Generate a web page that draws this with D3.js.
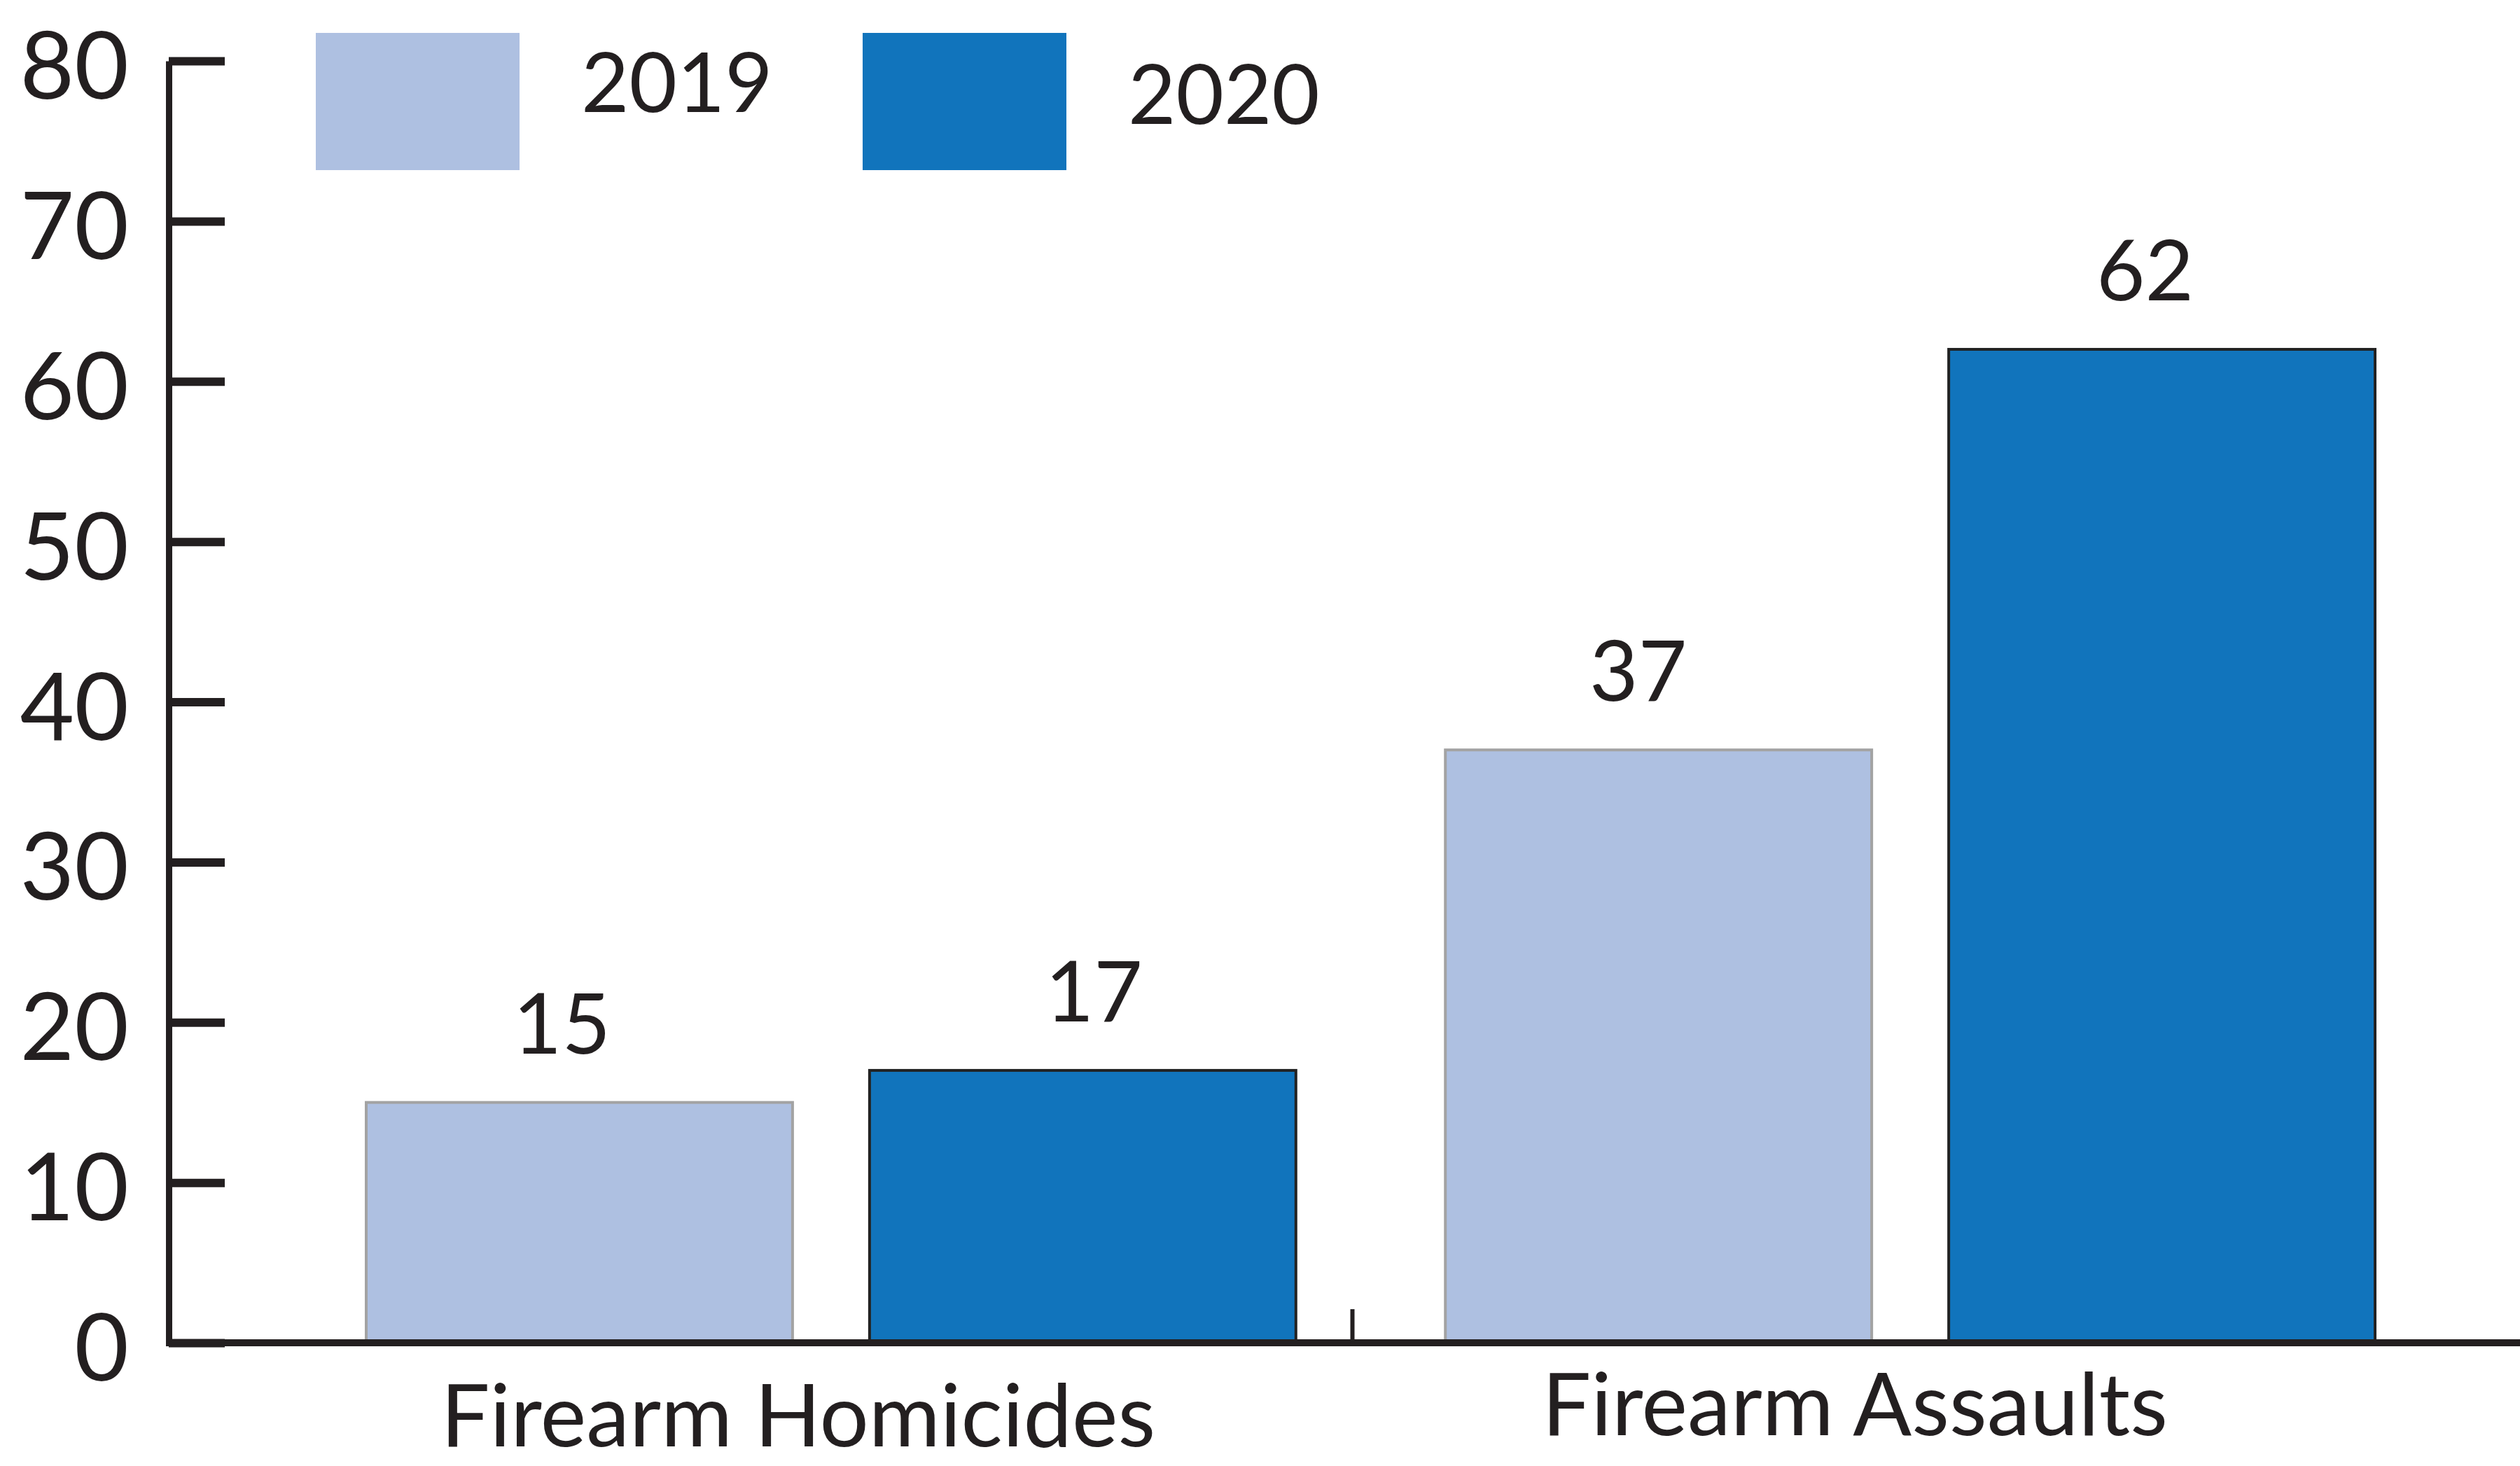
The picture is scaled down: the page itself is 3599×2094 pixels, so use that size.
<!DOCTYPE html>
<html>
<head lang="en">
    <meta charset="UTF-8">
    <title>Firearm Homicides and Assaults, 2019 vs 2020</title>
    <script src="https://d3js.org/d3.v7.min.js"></script>
    <style>
        body { margin: 0; background: #fff; }
        text { font-family: Lato, "Noto Sans", sans-serif; fill: #231f20; }
    </style>
</head>
<body>
<div id="chartContainer"></div>
<script type="text/javascript">
    // data
    var categories = ["Firearm Homicides", "Firearm Assaults"];
    var years = ["2019", "2020"];
    var values2019 = [15, 37];
    var values2020 = [17, 62];
    var yTicks = [0, 10, 20, 30, 40, 50, 60, 70, 80];

    var W = 3599, H = 2094;
    var svg = d3.select("#chartContainer").append("svg")
        .attr("width", W).attr("height", H);

    var colors = { "2019": "#aec0e1", "2020": "#1174bc" };
    var strokes = { "2019": "#a3a3a3", "2020": "#222" };

    var rows = categories.map(function (c, i) {
        return { cat: c, idx: i, "2019": values2019[i], "2020": values2020[i] };
    });

    var y = d3.scaleLinear().domain([0, 80]).range([1918, 87]);
    var x0 = d3.scaleBand().domain(categories).range([523, 3392]).paddingInner(0.1385);
    var x1 = d3.scaleBand().domain(years).range([0, x0.bandwidth()]).paddingInner(0.153);

    // bars
    var groups = svg.selectAll("g.cat")
        .data(rows)
        .enter().append("g")
        .attr("class", "cat")
        .attr("transform", function (d) { return "translate(" + x0(d.cat) + ",0)"; });

    function pairs(d) {
        return years.map(function (k, j) { return { key: k, value: d[k], n: d.idx * 2 + j }; });
    }

    groups.selectAll("rect")
        .data(pairs)
        .enter().append("rect")
        .attr("x", function (d) { return x1(d.key); })
        .attr("y", function (d) { return y(d.value); })
        .attr("width", x1.bandwidth())
        .attr("height", function (d) { return y(0) - y(d.value); })
        .style("fill", function (d) { return colors[d.key]; })
        .style("stroke", function (d) { return strokes[d.key]; })
        .style("stroke-width", 4);

    // value labels (the labels sit a little off-centre in the original)
    var valDx = [-25, 16, -29, -24];
    groups.selectAll("text.val")
        .data(pairs)
        .enter().append("text")
        .attr("class", "val")
        .attr("x", function (d) { return x1(d.key) + x1.bandwidth() / 2 + valDx[d.n]; })
        .attr("y", function (d) { return y(d.value) - 70; })
        .attr("text-anchor", "middle")
        .style("font-size", "120px")
        .text(function (d) { return d.value; });

    // y axis, ticks pointing into the plot
    var yAxis = d3.axisLeft(y)
        .tickValues(yTicks)
        .tickSizeInner(-80)
        .tickSizeOuter(0)
        .tickPadding(57);
    var gy = svg.append("g").attr("transform", "translate(241,0)").call(yAxis);
    gy.select(".domain").style("stroke", "#231f20").style("stroke-width", 9);
    gy.selectAll(".tick line").style("stroke", "#231f20").style("stroke-width", 12);
    gy.selectAll(".tick text")
        .attr("dy", "0.4em")
        .style("font-family", "Lato, 'Noto Sans', sans-serif")
        .style("font-size", "134px")
        .style("fill", "#231f20");

    // x baseline
    svg.append("line")
        .attr("x1", 237).attr("x2", W)
        .attr("y1", y(0)).attr("y2", y(0))
        .style("stroke", "#231f20").style("stroke-width", 10);

    // small divider tick between the two groups
    var mid = x0(categories[1]) - x0.step() * x0.paddingInner() / 2 - 26;
    svg.append("line")
        .attr("x1", mid).attr("x2", mid)
        .attr("y1", y(0) - 48).attr("y2", y(0))
        .style("stroke", "#231f20").style("stroke-width", 6);

    // category labels
    var catDx = [-47, -79];
    var catY = [2066, 2050];
    svg.selectAll("text.cat")
        .data(categories)
        .enter().append("text")
        .attr("class", "cat")
        .attr("x", function (d, i) { return x0(d) + x0.bandwidth() / 2 + catDx[i]; })
        .attr("y", function (d, i) { return catY[i]; })
        .attr("text-anchor", "middle")
        .style("font-size", "124px")
        .text(function (d) { return d; });

    // legend
    var legX = [451, 1232];
    var legTextX = [830, 1611];
    var legTextY = [160, 177];
    var legend = svg.selectAll("g.legend")
        .data(years)
        .enter().append("g")
        .attr("class", "legend");
    legend.append("rect")
        .attr("x", function (d, i) { return legX[i]; })
        .attr("y", 47)
        .attr("width", 291)
        .attr("height", 196)
        .style("fill", function (d) { return colors[d]; });
    legend.append("text")
        .attr("x", function (d, i) { return legTextX[i]; })
        .attr("y", function (d, i) { return legTextY[i]; })
        .style("font-size", "118px")
        .text(function (d) { return d; });
</script>
</body>
</html>
